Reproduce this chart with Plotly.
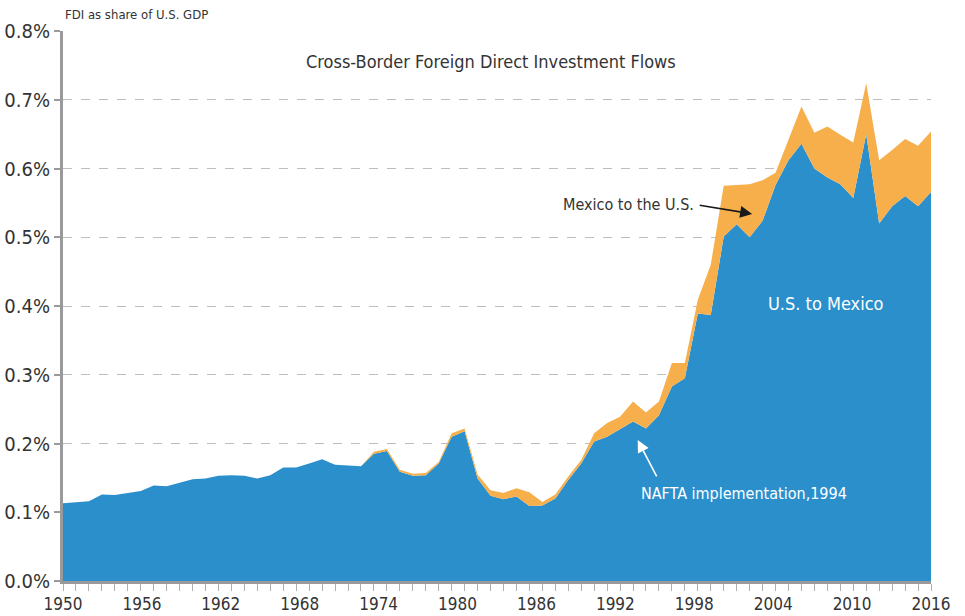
import numpy as np
import plotly.graph_objects as go

# FDI flows as % of U.S. GDP.
# The source has 68 evenly spaced observations spread across the 1950-2016 axis.
us_to_mexico = [
    0.113, 0.115, 0.116, 0.126, 0.125, 0.128, 0.131, 0.139, 0.138, 0.143,
    0.148, 0.149, 0.153, 0.154, 0.153, 0.149, 0.154, 0.165, 0.165, 0.171,
    0.177, 0.169, 0.168, 0.167, 0.185, 0.189, 0.159, 0.153, 0.154, 0.171,
    0.210, 0.218, 0.149, 0.124, 0.119, 0.123, 0.109, 0.110, 0.120, 0.147,
    0.171, 0.203, 0.210, 0.221, 0.232, 0.222, 0.241, 0.283, 0.295, 0.389,
    0.387, 0.501, 0.519, 0.500, 0.524, 0.576, 0.612, 0.636, 0.600, 0.587,
    0.577, 0.557, 0.650, 0.520, 0.545, 0.560, 0.545, 0.566,
]
mexico_to_us = [
    0.0, 0.0, 0.0, 0.0, 0.0, 0.0, 0.0, 0.0, 0.0, 0.0,
    0.0, 0.0, 0.0, 0.0, 0.0, 0.0, 0.0, 0.0, 0.0, 0.0,
    0.0, 0.0, 0.0, 0.0, 0.003, 0.003, 0.003, 0.003, 0.003, 0.002,
    0.005, 0.004, 0.006, 0.008, 0.009, 0.012, 0.020, 0.005, 0.006, 0.005,
    0.005, 0.012, 0.020, 0.018, 0.029, 0.023, 0.020, 0.034, 0.022, 0.020,
    0.073, 0.074, 0.057, 0.077, 0.059, 0.018, 0.030, 0.054, 0.052, 0.074,
    0.072, 0.081, 0.074, 0.092, 0.082, 0.083, 0.088, 0.088,
]
label_years = list(range(1950, 2017, 6))
y_ticks = [0.0, 0.1, 0.2, 0.3, 0.4, 0.5, 0.6, 0.7, 0.8]

x = np.linspace(1950, 2016, len(us_to_mexico))

BLUE = "#2B8FCC"
ORANGE = "#F6AF4A"
GREY = "#9A9A9C"
TEXT = "#333333"
FONT = "Liberation Sans Narrow, DejaVu Sans Condensed, Roboto, sans-serif"

fig = go.Figure()
fig.add_trace(go.Scatter(x=x, y=us_to_mexico, stackgroup="fdi", mode="lines",
                         line=dict(width=0, color=BLUE), fillcolor=BLUE,
                         name="U.S. to Mexico"))
fig.add_trace(go.Scatter(x=x, y=mexico_to_us, stackgroup="fdi", mode="lines",
                         line=dict(width=0, color=ORANGE), fillcolor=ORANGE,
                         name="Mexico to the U.S."))

fig.update_layout(
    width=965, height=616,
    margin=dict(l=63, r=34, t=31, b=35),
    paper_bgcolor="white", plot_bgcolor="white",
    showlegend=False,
    font=dict(family=FONT, color=TEXT, size=18),
    xaxis=dict(
        range=[1950, 2016], tickmode="array", tickvals=label_years,
        ticks="", showgrid=False, zeroline=False, automargin=False,
        showline=True, linecolor=GREY, linewidth=3, ticklabelstandoff=6,
        tickfont=dict(size=17, color=TEXT),
        minor=dict(ticks="outside", tickmode="array", tickvals=list(x),
                   ticklen=7, tickcolor="#B0B0B2", tickwidth=1, showgrid=False),
    ),
    yaxis=dict(
        range=[0, 0.8], tickmode="array", tickvals=y_ticks,
        ticktext=[f"{v:.1f}%" for v in y_ticks],
        ticks="outside", ticklen=6, tickwidth=2, tickcolor=GREY,
        showline=True, linecolor=GREY, linewidth=3, automargin=False,
        showgrid=True, gridcolor="#BDBDBD", griddash="dash", gridwidth=1,
        zeroline=False, tickfont=dict(size=20, color=TEXT),
    ),
)

annotations = [
    dict(text="FDI as share of U.S. GDP", xref="paper", yref="paper",
         x=0.0, y=1.03, xanchor="left", yanchor="middle", showarrow=False,
         font=dict(size=13, color=TEXT)),
    dict(text="Cross-Border Foreign Direct Investment Flows", xref="paper", yref="paper",
         x=0.493, y=0.944, xanchor="center", yanchor="middle", showarrow=False,
         font=dict(size=18, color=TEXT)),
    dict(text="Mexico to the U.S.", x=1998.1, y=0.547, xanchor="right",
         yanchor="middle", showarrow=False, font=dict(size=16, color=TEXT)),
    dict(text="", x=2002.4, y=0.534, ax=1998.3, ay=0.547, axref="x", ayref="y",
         showarrow=True, arrowhead=2, arrowsize=1.5, arrowwidth=1.6,
         arrowcolor="#1a1a1a"),
    dict(text="U.S. to Mexico", x=2008.0, y=0.404, xanchor="center",
         yanchor="middle", showarrow=False, font=dict(size=18, color="white")),
    dict(text="NAFTA implementation,1994", x=1993.8, y=0.128, xanchor="left",
         yanchor="middle", showarrow=False, font=dict(size=16, color="white")),
    dict(text="", x=1993.7, y=0.205, ax=1995.2, ay=0.150, axref="x", ayref="y",
         showarrow=True, arrowhead=2, arrowsize=1.5, arrowwidth=1.6,
         arrowcolor="white"),
]
fig.update_layout(annotations=annotations)

# drop the browser's default 8px body margin so the figure fills the window
fig.write_html("out.html", config={"displayModeBar": False},
               post_script="document.body.style.margin='0';")
